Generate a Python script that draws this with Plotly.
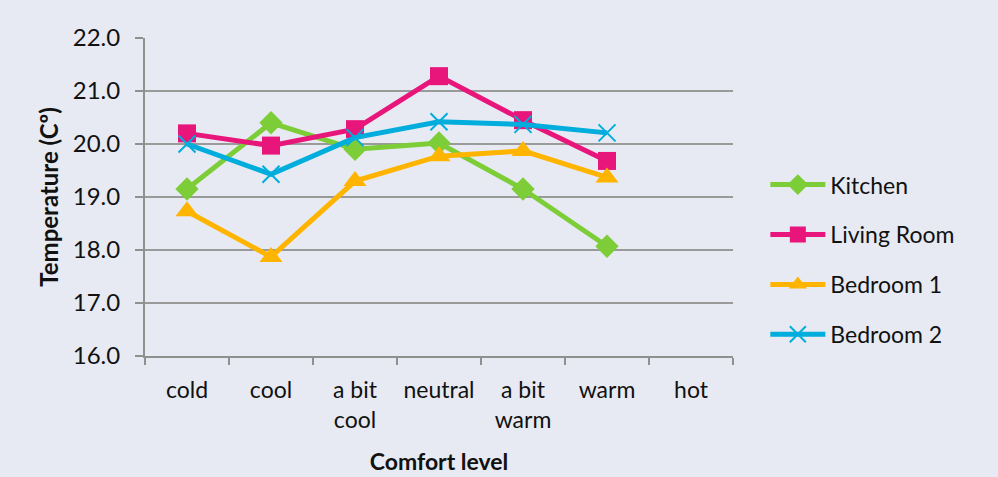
import plotly.graph_objects as go

categories = ["cold", "cool", "a bit<br>cool", "neutral", "a bit<br>warm", "warm", "hot"]
kitchen = [19.15, 20.4, 19.9, 20.02, 19.15, 18.07, None]
living_room = [20.2, 19.97, 20.28, 21.28, 20.45, 19.68, None]
bedroom1 = [18.73, 17.87, 19.3, 19.77, 19.87, 19.37, None]
bedroom2 = [20.0, 19.43, 20.12, 20.42, 20.37, 20.21, None]

series = [
    ("Kitchen", kitchen, "#7DCD38", "diamond", 18, None),
    ("Living Room", living_room, "#E8167B", "square", 18, None),
    ("Bedroom 1", bedroom1, "#FFB400", "triangle-up", 20, None),
    ("Bedroom 2", bedroom2, "#00ADDC", "x-thin", 17, 2),
]

FONT = "Lato, 'Open Sans', sans-serif"
fig = go.Figure()
for i, (name, vals, color, sym, size, mlw) in enumerate(series):
    marker = dict(symbol=sym, size=size, color=color)
    if mlw:
        marker["line"] = dict(color=color, width=mlw)
    fig.add_trace(go.Scatter(
        x=categories, y=vals, name=name, mode="lines+markers",
        line=dict(color=color, width=5), marker=marker,
        legendgroup=f"g{i}", connectgaps=False,
    ))

fig.update_layout(
    width=998, height=477,
    margin=dict(l=145, r=265, t=38, b=121),
    paper_bgcolor="#E7EAF2", plot_bgcolor="#E7EAF2",
    font=dict(family=FONT, size=24, color="#111111"),
    showlegend=True,
    legend=dict(x=1.055, y=0.303, xanchor="left", yanchor="middle",
                font=dict(size=23), itemwidth=55, tracegroupgap=17,
                bgcolor="rgba(0,0,0,0)"),
    xaxis=dict(
        type="category", range=[-0.5, 6.5], showgrid=False, automargin=False,
        showline=True, linecolor="#909090", linewidth=2, tickangle=0,
        ticks="outside", tickson="boundaries", ticklen=7, tickcolor="#909090", tickwidth=2,
        tickfont=dict(size=23), ticklabelstandoff=12,
        title=dict(text="<b>Comfort level</b>", font=dict(size=23), standoff=22),
    ),
    yaxis=dict(
        range=[16, 22], dtick=1, tickformat=".1f", automargin=False,
        showgrid=True, gridcolor="#9A9A9A", gridwidth=2,
        showline=True, linecolor="#909090", linewidth=2,
        ticks="outside", ticklen=8, tickcolor="#909090", tickwidth=2,
        tickfont=dict(size=24), ticklabelstandoff=10, zeroline=False,
        title=dict(text="<b>Temperature (Cº)</b>", font=dict(size=24), standoff=7),
    ),
)

fig.write_html("out.html", config={"displayModeBar": False},
               post_script="document.body.style.margin='0';")
